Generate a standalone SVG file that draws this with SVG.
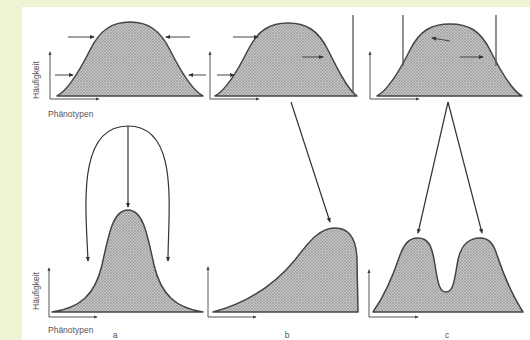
<svg xmlns="http://www.w3.org/2000/svg" width="530" height="340" viewBox="0 0 530 340">
<defs>
<pattern id="hatch" width="3" height="3" patternUnits="userSpaceOnUse">
<rect width="3" height="3" fill="#c4c4c4"/>
<path d="M0,3 L3,0 M0,0 L3,3" stroke="#979797" stroke-width="0.6"/>
</pattern>
<marker id="ah" viewBox="0 0 6 6" refX="5" refY="3" markerWidth="5" markerHeight="5" orient="auto" markerUnits="userSpaceOnUse">
<path d="M0,0.5 L6,3 L0,5.5 Z" fill="#333"/>
</marker>
<marker id="ax" viewBox="0 0 6 6" refX="5" refY="3" markerWidth="4" markerHeight="4" orient="auto" markerUnits="userSpaceOnUse">
<path d="M0,0.5 L6,3 L0,5.5 Z" fill="#444"/>
</marker>
</defs>
<style>
.curve{fill:url(#hatch);stroke:#444;stroke-width:1.5;stroke-linejoin:round}
.axis{fill:none;stroke:#555;stroke-width:1;marker-end:url(#ax)}
.sel{fill:none;stroke:#444;stroke-width:1;marker-end:url(#ah)}
.con{fill:none;stroke:#333;stroke-width:1.2;marker-end:url(#ah)}
.cut{fill:none;stroke:#555;stroke-width:1.3}
.lbl{font-family:"Liberation Sans",Arial,sans-serif;font-size:8.5px;fill:#555}
.let{font-family:"Liberation Sans",Arial,sans-serif;font-size:8.5px;fill:#555}
</style>
<rect width="530" height="340" fill="#eef3d3"/>
<rect x="22" y="7" width="508" height="333" fill="#ffffff"/>

<g id="top-stabilizing">
<path class="curve" d="M57,96 C68,90 80,70 90,50 C100,30 112,22 130,22 C148,22 160,30 170,50 C180,70 192,90 203,96 Z"/>
<line class="sel" x1="68" y1="37" x2="94" y2="37"/>
<line class="sel" x1="190" y1="37" x2="166" y2="37"/>
<line class="sel" x1="55" y1="75" x2="73" y2="75"/>
<line class="sel" x1="206" y1="75" x2="189" y2="75"/>
<path class="axis" d="M50,99 L50,52"/>
<path class="axis" d="M50,99 L99,99"/>
<text class="lbl" transform="translate(39,80) rotate(-90)" text-anchor="middle">Häufigkeit</text>
<text class="lbl" x="48" y="117">Phänotypen</text>
</g>

<g id="top-directional">
<path class="curve" d="M215,96 C226,90 238,70 248,50 C258,30 270,23 288,23 C306,23 318,30 328,50 C338,70 348,90 357,96 Z"/>
<line class="cut" x1="353" y1="15" x2="353" y2="92"/>
<line class="sel" x1="233" y1="37" x2="258" y2="37"/>
<line class="sel" x1="217" y1="75" x2="234" y2="75"/>
<line class="sel" x1="302" y1="57" x2="323" y2="57"/>
<path class="axis" d="M210,99 L210,52"/>
<path class="axis" d="M210,99 L259,99"/>
</g>

<g id="top-disruptive">
<path class="curve" d="M377,96 C388,90 400,70 410,50 C420,30 432,24 450,24 C468,24 480,30 490,50 C500,70 511,90 522,96 Z"/>
<line class="cut" x1="403" y1="15" x2="403" y2="66"/>
<line class="cut" x1="496" y1="15" x2="496" y2="66"/>
<line class="sel" x1="450" y1="41" x2="432" y2="38"/>
<line class="sel" x1="460" y1="57" x2="483" y2="57"/>
<path class="axis" d="M370,99 L370,52"/>
<path class="axis" d="M370,99 L419,99"/>
</g>

<g id="bottom-a">
<path class="curve" d="M52,312 C80,308 95,295 102,265 C109,233 113,210 128,210 C143,210 147,233 154,265 C161,295 176,308 203,312 Z"/>
<path class="axis" d="M49,317 L49,268"/>
<path class="axis" d="M49,317 L97,317"/>
<text class="lbl" transform="translate(39,291) rotate(-90)" text-anchor="middle">Häufigkeit</text>
<text class="lbl" x="48" y="333">Phänotypen</text>
<text class="let" x="115" y="338" text-anchor="middle">a</text>
</g>

<g id="bottom-b">
<path class="curve" d="M213,312 C240,305 270,290 295,260 C310,240 320,228 335,228 C350,228 357,240 357,262 L358,312 Z"/>
<path class="axis" d="M208,317 L208,267"/>
<path class="axis" d="M208,317 L256,317"/>
<text class="let" x="287" y="338" text-anchor="middle">b</text>
</g>

<g id="bottom-c">
<path class="curve" d="M373,312 C385,295 395,270 400,255 C405,242 410,238 418,238 C428,238 432,245 435,265 C438,285 440,292 446,292 C452,292 454,285 457,265 C460,245 468,238 480,238 C488,238 493,242 497,255 C502,270 512,295 523,312 Z"/>
<path class="axis" d="M369,317 L369,270"/>
<path class="axis" d="M369,317 L418,317"/>
<text class="let" x="447" y="338" text-anchor="middle">c</text>
</g>

<g id="connectors">
<line class="con" x1="128" y1="126" x2="128" y2="207"/>
<path class="con" d="M128,126 C76,126 86,210 88,261"/>
<path class="con" d="M128,126 C180,126 168,210 168,261"/>
<line class="con" x1="291" y1="102" x2="330" y2="222"/>
<line class="con" x1="448" y1="102" x2="418" y2="233"/>
<line class="con" x1="448" y1="102" x2="482" y2="233"/>
</g>
</svg>
